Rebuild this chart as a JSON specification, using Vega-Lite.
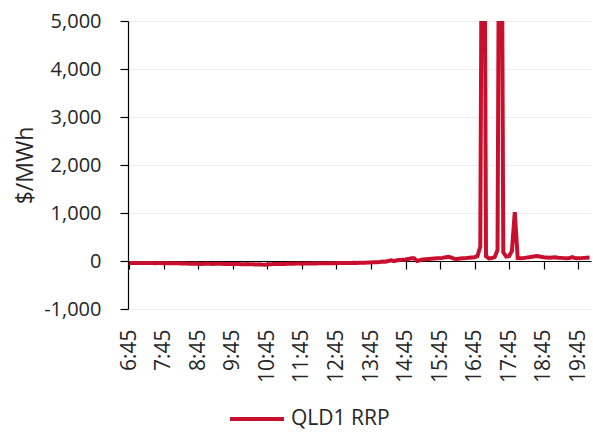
{
  "$schema": "https://vega.github.io/schema/vega-lite/v6.json",
  "width": 463,
  "height": 288,
  "autosize": "none",
  "padding": {"left": 128, "top": 21, "right": 2, "bottom": 124},
  "background": "white",
  "config": {
    "view": {"stroke": null},
    "font": "Open Sans",
    "axis": {"labelFont": "Open Sans", "titleFont": "Open Sans", "labelColor": "#262626", "titleColor": "#262626"}
  },
  "data": {
    "values": [
      {"time": "06:45", "price": -40}, {"time": "06:50", "price": -42}, {"time": "06:55", "price": -40}, {"time": "07:00", "price": -43},
      {"time": "07:05", "price": -41}, {"time": "07:10", "price": -44}, {"time": "07:15", "price": -42}, {"time": "07:20", "price": -40},
      {"time": "07:25", "price": -43}, {"time": "07:30", "price": -45}, {"time": "07:35", "price": -42}, {"time": "07:40", "price": -44},
      {"time": "07:45", "price": -46}, {"time": "07:50", "price": -44}, {"time": "07:55", "price": -45}, {"time": "08:00", "price": -47},
      {"time": "08:05", "price": -45}, {"time": "08:10", "price": -48}, {"time": "08:15", "price": -50}, {"time": "08:20", "price": -47},
      {"time": "08:25", "price": -52}, {"time": "08:30", "price": -55}, {"time": "08:35", "price": -58}, {"time": "08:40", "price": -50},
      {"time": "08:45", "price": -55}, {"time": "08:50", "price": -62}, {"time": "08:55", "price": -58}, {"time": "09:00", "price": -52},
      {"time": "09:05", "price": -55}, {"time": "09:10", "price": -60}, {"time": "09:15", "price": -57}, {"time": "09:20", "price": -55},
      {"time": "09:25", "price": -58}, {"time": "09:30", "price": -60}, {"time": "09:35", "price": -62}, {"time": "09:40", "price": -60},
      {"time": "09:45", "price": -63}, {"time": "09:50", "price": -65}, {"time": "09:55", "price": -62}, {"time": "10:00", "price": -66},
      {"time": "10:05", "price": -68}, {"time": "10:10", "price": -65}, {"time": "10:15", "price": -67}, {"time": "10:20", "price": -70},
      {"time": "10:25", "price": -72}, {"time": "10:30", "price": -70}, {"time": "10:35", "price": -75}, {"time": "10:40", "price": -78},
      {"time": "10:45", "price": -72}, {"time": "10:50", "price": -68}, {"time": "10:55", "price": -65}, {"time": "11:00", "price": -62},
      {"time": "11:05", "price": -60}, {"time": "11:10", "price": -58}, {"time": "11:15", "price": -60}, {"time": "11:20", "price": -56},
      {"time": "11:25", "price": -55}, {"time": "11:30", "price": -57}, {"time": "11:35", "price": -54}, {"time": "11:40", "price": -52},
      {"time": "11:45", "price": -55}, {"time": "11:50", "price": -53}, {"time": "11:55", "price": -50}, {"time": "12:00", "price": -52},
      {"time": "12:05", "price": -48}, {"time": "12:10", "price": -50}, {"time": "12:15", "price": -47}, {"time": "12:20", "price": -48},
      {"time": "12:25", "price": -45}, {"time": "12:30", "price": -46}, {"time": "12:35", "price": -44}, {"time": "12:40", "price": -45},
      {"time": "12:45", "price": -43}, {"time": "12:50", "price": -44}, {"time": "12:55", "price": -42}, {"time": "13:00", "price": -43},
      {"time": "13:05", "price": -40}, {"time": "13:10", "price": -41}, {"time": "13:15", "price": -39}, {"time": "13:20", "price": -40},
      {"time": "13:25", "price": -38}, {"time": "13:30", "price": -36}, {"time": "13:35", "price": -35}, {"time": "13:40", "price": -33},
      {"time": "13:45", "price": -30}, {"time": "13:50", "price": -28}, {"time": "13:55", "price": -25}, {"time": "14:00", "price": -20},
      {"time": "14:05", "price": -10}, {"time": "14:10", "price": -15}, {"time": "14:15", "price": 0}, {"time": "14:20", "price": 15},
      {"time": "14:25", "price": -5}, {"time": "14:30", "price": 15}, {"time": "14:35", "price": 20}, {"time": "14:40", "price": 25},
      {"time": "14:45", "price": 30}, {"time": "14:50", "price": 40}, {"time": "14:55", "price": 55}, {"time": "15:00", "price": 55},
      {"time": "15:05", "price": 0}, {"time": "15:10", "price": 15}, {"time": "15:15", "price": 30}, {"time": "15:20", "price": 35},
      {"time": "15:25", "price": 40}, {"time": "15:30", "price": 45}, {"time": "15:35", "price": 50}, {"time": "15:40", "price": 55},
      {"time": "15:45", "price": 60}, {"time": "15:50", "price": 65}, {"time": "15:55", "price": 80}, {"time": "16:00", "price": 90},
      {"time": "16:05", "price": 70}, {"time": "16:10", "price": 45}, {"time": "16:15", "price": 40}, {"time": "16:20", "price": 50},
      {"time": "16:25", "price": 55}, {"time": "16:30", "price": 60}, {"time": "16:35", "price": 70}, {"time": "16:40", "price": 75},
      {"time": "16:45", "price": 80}, {"time": "16:50", "price": 100}, {"time": "16:55", "price": 300}, {"time": "17:00", "price": 14000},
      {"time": "17:05", "price": 100}, {"time": "17:10", "price": 55}, {"time": "17:15", "price": 60}, {"time": "17:20", "price": 80},
      {"time": "17:25", "price": 230}, {"time": "17:30", "price": 14000}, {"time": "17:35", "price": 180}, {"time": "17:40", "price": 90},
      {"time": "17:45", "price": 100}, {"time": "17:50", "price": 210}, {"time": "17:55", "price": 1020}, {"time": "18:00", "price": 60},
      {"time": "18:05", "price": 55}, {"time": "18:10", "price": 60}, {"time": "18:15", "price": 70}, {"time": "18:20", "price": 80},
      {"time": "18:25", "price": 90}, {"time": "18:30", "price": 100}, {"time": "18:35", "price": 105}, {"time": "18:40", "price": 90},
      {"time": "18:45", "price": 80}, {"time": "18:50", "price": 75}, {"time": "18:55", "price": 70}, {"time": "19:00", "price": 75},
      {"time": "19:05", "price": 80}, {"time": "19:10", "price": 70}, {"time": "19:15", "price": 65}, {"time": "19:20", "price": 60},
      {"time": "19:25", "price": 55}, {"time": "19:30", "price": 60}, {"time": "19:35", "price": 80}, {"time": "19:40", "price": 60},
      {"time": "19:45", "price": 55}, {"time": "19:50", "price": 60}, {"time": "19:55", "price": 65}, {"time": "20:00", "price": 70},
      {"time": "20:05", "price": 75}
    ],
    "format": {"parse": {"time": "date:'%H:%M'"}}
  },
  "transform": [{"calculate": "'QLD1 RRP'", "as": "series"}],
  "mark": {"type": "line", "clip": true, "strokeWidth": 4},
  "encoding": {
    "x": {
      "field": "time",
      "type": "temporal",
      "scale": {
        "domain": [
          {"year": 1900, "month": 1, "date": 1, "hours": 6, "minutes": 42, "seconds": 30},
          {"year": 1900, "month": 1, "date": 1, "hours": 20, "minutes": 7, "seconds": 30}
        ]
      },
      "axis": {
        "title": null,
        "values": [
          {"year": 1900, "month": 1, "date": 1, "hours": 6, "minutes": 45},
          {"year": 1900, "month": 1, "date": 1, "hours": 7, "minutes": 45},
          {"year": 1900, "month": 1, "date": 1, "hours": 8, "minutes": 45},
          {"year": 1900, "month": 1, "date": 1, "hours": 9, "minutes": 45},
          {"year": 1900, "month": 1, "date": 1, "hours": 10, "minutes": 45},
          {"year": 1900, "month": 1, "date": 1, "hours": 11, "minutes": 45},
          {"year": 1900, "month": 1, "date": 1, "hours": 12, "minutes": 45},
          {"year": 1900, "month": 1, "date": 1, "hours": 13, "minutes": 45},
          {"year": 1900, "month": 1, "date": 1, "hours": 14, "minutes": 45},
          {"year": 1900, "month": 1, "date": 1, "hours": 15, "minutes": 45},
          {"year": 1900, "month": 1, "date": 1, "hours": 16, "minutes": 45},
          {"year": 1900, "month": 1, "date": 1, "hours": 17, "minutes": 45},
          {"year": 1900, "month": 1, "date": 1, "hours": 18, "minutes": 45},
          {"year": 1900, "month": 1, "date": 1, "hours": 19, "minutes": 45}
        ],
        "format": "%-H:%M",
        "labelAngle": -90,
        "labelFontSize": 21,
        "labelPadding": 60,
        "offset": -48,
        "grid": false,
        "domainColor": "#000000",
        "domainWidth": 1.2,
        "tickColor": "#000000",
        "tickSize": 8,
        "tickWidth": 1.2,
        "labelFlush": false,
        "labelOverlap": false
      }
    },
    "y": {
      "field": "price",
      "type": "quantitative",
      "scale": {"domain": [-1000, 5000], "nice": false, "zero": false},
      "axis": {
        "title": "$/MWh",
        "titleFontSize": 23,
        "titleFontWeight": "normal",
        "titlePadding": 6,
        "values": [-1000, 0, 1000, 2000, 3000, 4000, 5000],
        "labelExpr": "datum.value < 0 ? '-' + format(-datum.value, ',.0f') : format(datum.value, ',.0f')",
        "labelFontSize": 20,
        "labelPadding": 19,
        "domainColor": "#000000",
        "domainWidth": 1.2,
        "tickColor": "#000000",
        "tickSize": 8,
        "tickWidth": 1.2,
        "gridColor": "#EDEDED",
        "gridWidth": 1.2,
        "labelFlush": false
      }
    },
    "color": {
      "field": "series",
      "type": "nominal",
      "scale": {"range": ["#C8102E"]},
      "legend": {
        "title": null,
        "orient": "none",
        "legendX": 100,
        "legendY": 369,
        "padding": 0,
        "symbolType": "stroke",
        "symbolSize": 2916,
        "symbolStrokeWidth": 4,
        "labelFontSize": 21,
        "labelFont": "Open Sans",
        "labelColor": "#262626",
        "labelOffset": 5
      }
    }
  }
}
